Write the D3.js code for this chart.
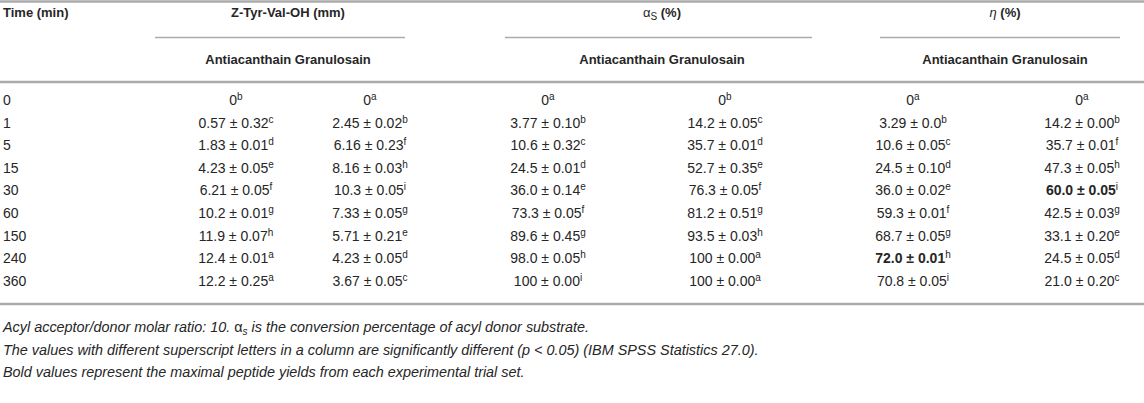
<!DOCTYPE html>
<html>
<head>
<meta charset="utf-8">
<script src="https://cdn.jsdelivr.net/npm/d3@7"></script>
<style>
  body { margin: 0; background: #fff; }
  svg text { font-family: "Liberation Sans", Arial, Helvetica, sans-serif; fill: #262626; }
</style>
</head>
<body>
<div id="table"></div>
<script>
//----------------------------------------------------------
// table data

var g_times = ["0", "1", "5", "15", "30", "60", "150", "240", "360"];

var g_z_anti_values = ["0", "0.57 ± 0.32", "1.83 ± 0.01", "4.23 ± 0.05", "6.21 ± 0.05", "10.2 ± 0.01", "11.9 ± 0.07", "12.4 ± 0.01", "12.2 ± 0.25"];
var g_z_anti_letters = ["b", "c", "d", "e", "f", "g", "h", "a", "a"];

var g_z_gran_values = ["0", "2.45 ± 0.02", "6.16 ± 0.23", "8.16 ± 0.03", "10.3 ± 0.05", "7.33 ± 0.05", "5.71 ± 0.21", "4.23 ± 0.05", "3.67 ± 0.05"];
var g_z_gran_letters = ["a", "b", "f", "h", "i", "g", "e", "d", "c"];

var g_a_anti_values = ["0", "3.77 ± 0.10", "10.6 ± 0.32", "24.5 ± 0.01", "36.0 ± 0.14", "73.3 ± 0.05", "89.6 ± 0.45", "98.0 ± 0.05", "100 ± 0.00"];
var g_a_anti_letters = ["a", "b", "c", "d", "e", "f", "g", "h", "i"];

var g_a_gran_values = ["0", "14.2 ± 0.05", "35.7 ± 0.01", "52.7 ± 0.35", "76.3 ± 0.05", "81.2 ± 0.51", "93.5 ± 0.03", "100 ± 0.00", "100 ± 0.00"];
var g_a_gran_letters = ["b", "c", "d", "e", "f", "g", "h", "a", "a"];

var g_e_anti_values = ["0", "3.29 ± 0.0", "10.6 ± 0.05", "24.5 ± 0.10", "36.0 ± 0.02", "59.3 ± 0.01", "68.7 ± 0.05", "72.0 ± 0.01", "70.8 ± 0.05"];
var g_e_anti_letters = ["a", "b", "c", "d", "e", "f", "g", "h", "i"];

var g_e_gran_values = ["0", "14.2 ± 0.00", "35.7 ± 0.01", "47.3 ± 0.05", "60.0 ± 0.05", "42.5 ± 0.03", "33.1 ± 0.20", "24.5 ± 0.05", "21.0 ± 0.20"];
var g_e_gran_letters = ["a", "b", "f", "h", "i", "g", "e", "d", "c"];

// maximal peptide yields (shown bold)
var g_bold_cells = [["eAnti", "240"], ["eGran", "30"]];

var g_sub_header = "Antiacanthain Granulosain";

var g_footnotes = [
    "The values with different superscript letters in a column are significantly different (p < 0.05) (IBM SPSS Statistics 27.0).",
    "Bold values represent the maximal peptide yields from each experimental trial set."
];


//----------------------------------------------------------
// layout

var g_width = 1144, g_height = 403;
var g_rule_colour = "#ababab";
var g_font = 14, g_sup_font = 10;

var g_columns = [
    { key: "zAnti", values: g_z_anti_values, letters: g_z_anti_letters },
    { key: "zGran", values: g_z_gran_values, letters: g_z_gran_letters },
    { key: "aAnti", values: g_a_anti_values, letters: g_a_anti_letters },
    { key: "aGran", values: g_a_gran_values, letters: g_a_gran_letters },
    { key: "eAnti", values: g_e_anti_values, letters: g_e_anti_letters },
    { key: "eGran", values: g_e_gran_values, letters: g_e_gran_letters }
];

var g_groups = [
    { key: "z", x0: 155, x1: 405, cx: 288 },
    { key: "a", x0: 505, x1: 812, cx: 662 },
    { key: "e", x0: 880, x1: 1120, cx: 1005 }
];

var x_col = d3.scaleOrdinal()
    .domain(g_columns.map(function (c) { return c.key; }))
    .range([236, 370, 548, 725, 913, 1082]);

var y_row = d3.scalePoint()
    .domain(g_times)
    .range([100, 281]);

var y_foot = d3.scalePoint()
    .domain(d3.range(3))
    .range([327, 372]);

var svg = d3.select("#table")
  .append("svg")
    .attr("width", g_width)
    .attr("height", g_height)
    .style("display", "block");


//----------------------------------------------------------
function Rule(x0, x1, y, w) {
    svg.append("line")
        .attr("x1", x0).attr("x2", x1)
        .attr("y1", y).attr("y2", y)
        .attr("stroke", g_rule_colour)
        .attr("stroke-width", w);
}

Rule(0, g_width, 1.5, 2.5);
Rule(0, g_width, 82, 2.5);
Rule(0, g_width, 304, 2.5);

g_groups.forEach(function (g) {
    Rule(g.x0, g.x1, 37.5, 1.5);
});


//----------------------------------------------------------
// header

var header = svg.append("g")
    .attr("font-size", 13)
    .attr("font-weight", "bold");

header.append("text")
    .attr("x", 3).attr("y", 12).attr("dy", "0.35em")
    .text("Time (min)");

header.append("text")
    .attr("x", g_groups[0].cx).attr("y", 12).attr("dy", "0.35em")
    .attr("text-anchor", "middle")
    .text("Z-Tyr-Val-OH (mm)");

var alpha = header.append("text")
    .attr("x", g_groups[1].cx).attr("y", 12).attr("dy", "0.35em")
    .attr("text-anchor", "middle");
alpha.append("tspan").attr("font-weight", "normal").text("α");
alpha.append("tspan").attr("font-weight", "normal").attr("font-size", g_sup_font).attr("dy", 3).text("S");
alpha.append("tspan").attr("dy", -3).text(" (%)");

var eta = header.append("text")
    .attr("x", g_groups[2].cx).attr("y", 12).attr("dy", "0.35em")
    .attr("text-anchor", "middle");
eta.append("tspan").attr("font-weight", "normal").attr("font-style", "italic").text("η");
eta.append("tspan").text(" (%)");

header.selectAll("text.sub")
    .data(g_groups)
    .join("text")
    .attr("class", "sub")
    .attr("x", function (g) { return g.cx; })
    .attr("y", 59).attr("dy", "0.35em")
    .attr("text-anchor", "middle")
    .text(g_sub_header);


//----------------------------------------------------------
// body

var body = svg.append("g").attr("font-size", g_font);

body.selectAll("text.time")
    .data(g_times)
    .join("text")
    .attr("class", "time")
    .attr("x", 3)
    .attr("y", function (t) { return y_row(t); })
    .attr("dy", "0.35em")
    .text(function (t) { return t; });

function IsBold(key, time) {
    return g_bold_cells.some(function (b) { return b[0] === key && b[1] === time; });
}

var cells = [];
g_columns.forEach(function (col) {
    g_times.forEach(function (t, i) {
        cells.push({ key: col.key, time: t, value: col.values[i], letter: col.letters[i] });
    });
});

var cell = body.selectAll("text.cell")
    .data(cells)
    .join("text")
    .attr("class", "cell")
    .attr("x", function (d) { return x_col(d.key); })
    .attr("y", function (d) { return y_row(d.time); })
    .attr("dy", "0.35em")
    .attr("text-anchor", "middle");

cell.append("tspan")
    .attr("font-weight", function (d) { return IsBold(d.key, d.time) ? "bold" : "normal"; })
    .text(function (d) { return d.value; });

cell.append("tspan")
    .attr("font-size", g_sup_font)
    .attr("dy", -5)
    .text(function (d) { return d.letter; });


//----------------------------------------------------------
// footnotes

var foot = svg.append("g")
    .attr("font-size", 14.4)
    .attr("font-style", "italic");

var first = foot.append("text")
    .attr("x", 3).attr("y", y_foot(0)).attr("dy", "0.35em");
first.append("tspan").text("Acyl acceptor/donor molar ratio: 10. ");
first.append("tspan").attr("font-style", "normal").text("α");
first.append("tspan").attr("font-size", g_sup_font).attr("dy", 3).text("s");
first.append("tspan").attr("dy", -3).text(" is the conversion percentage of acyl donor substrate.");

foot.selectAll("text.note")
    .data(g_footnotes)
    .join("text")
    .attr("class", "note")
    .attr("x", 3)
    .attr("y", function (d, i) { return y_foot(i + 1); })
    .attr("dy", "0.35em")
    .text(function (d) { return d; });
</script>
</body>
</html>
